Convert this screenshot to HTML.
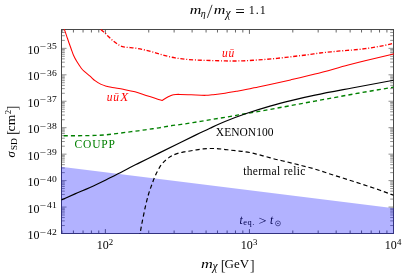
<!DOCTYPE html>
<html><head><meta charset="utf-8"><title>plot</title>
<style>
html,body{margin:0;padding:0;background:#fff;}
body{width:407px;height:276px;overflow:hidden;font-family:"Liberation Serif",serif;}
svg{display:block;will-change:transform;}
text{font-family:"Liberation Serif",serif;fill:#000;}
.tk{font-size:12px;}
.sup{font-size:8.8px;}
.it{font-style:italic;}
.lb{font-size:11.5px;}
</style></head><body>
<svg width="407" height="276" viewBox="0 0 407 276">
<rect width="407" height="276" fill="#fff"/>
<defs><clipPath id="c"><rect x="61.0" y="29.0" width="333.0" height="205.0"/></clipPath></defs>
<path d="M62.00,233.5 v-3.0 M62.00,29.5 v3.0 M73.41,233.5 v-3.0 M73.41,29.5 v3.0 M83.05,233.5 v-3.0 M83.05,29.5 v3.0 M91.41,233.5 v-3.0 M91.41,29.5 v3.0 M98.78,233.5 v-3.0 M98.78,29.5 v3.0 M105.37,233.5 v-4.4 M105.37,29.5 v4.4 M148.74,233.5 v-3.0 M148.74,29.5 v3.0 M174.11,233.5 v-3.0 M174.11,29.5 v3.0 M192.10,233.5 v-3.0 M192.10,29.5 v3.0 M206.07,233.5 v-3.0 M206.07,29.5 v3.0 M217.47,233.5 v-3.0 M217.47,29.5 v3.0 M227.12,233.5 v-3.0 M227.12,29.5 v3.0 M235.47,233.5 v-3.0 M235.47,29.5 v3.0 M242.84,233.5 v-3.0 M242.84,29.5 v3.0 M249.43,233.5 v-4.4 M249.43,29.5 v4.4 M292.80,233.5 v-3.0 M292.80,29.5 v3.0 M318.17,233.5 v-3.0 M318.17,29.5 v3.0 M336.17,233.5 v-3.0 M336.17,29.5 v3.0 M350.13,233.5 v-3.0 M350.13,29.5 v3.0 M361.54,233.5 v-3.0 M361.54,29.5 v3.0 M371.18,233.5 v-3.0 M371.18,29.5 v3.0 M379.54,233.5 v-3.0 M379.54,29.5 v3.0 M386.91,233.5 v-3.0 M386.91,29.5 v3.0 M393.50,233.5 v-4.4 M393.50,29.5 v4.4" stroke="#333" stroke-width="0.75" fill="none"/>
<path d="M61.5,233.50 h5.0 M393.5,233.50 h-5.0 M61.5,225.54 h3.3 M393.5,225.54 h-3.3 M61.5,220.88 h3.3 M393.5,220.88 h-3.3 M61.5,217.58 h3.3 M393.5,217.58 h-3.3 M61.5,215.01 h3.3 M393.5,215.01 h-3.3 M61.5,212.92 h3.3 M393.5,212.92 h-3.3 M61.5,211.15 h3.3 M393.5,211.15 h-3.3 M61.5,209.61 h3.3 M393.5,209.61 h-3.3 M61.5,208.26 h3.3 M393.5,208.26 h-3.3 M61.5,207.05 h5.0 M393.5,207.05 h-5.0 M61.5,199.09 h3.3 M393.5,199.09 h-3.3 M61.5,194.43 h3.3 M393.5,194.43 h-3.3 M61.5,191.13 h3.3 M393.5,191.13 h-3.3 M61.5,188.56 h3.3 M393.5,188.56 h-3.3 M61.5,186.47 h3.3 M393.5,186.47 h-3.3 M61.5,184.70 h3.3 M393.5,184.70 h-3.3 M61.5,183.16 h3.3 M393.5,183.16 h-3.3 M61.5,181.81 h3.3 M393.5,181.81 h-3.3 M61.5,180.60 h5.0 M393.5,180.60 h-5.0 M61.5,172.64 h3.3 M393.5,172.64 h-3.3 M61.5,167.98 h3.3 M393.5,167.98 h-3.3 M61.5,164.68 h3.3 M393.5,164.68 h-3.3 M61.5,162.11 h3.3 M393.5,162.11 h-3.3 M61.5,160.02 h3.3 M393.5,160.02 h-3.3 M61.5,158.25 h3.3 M393.5,158.25 h-3.3 M61.5,156.71 h3.3 M393.5,156.71 h-3.3 M61.5,155.36 h3.3 M393.5,155.36 h-3.3 M61.5,154.15 h5.0 M393.5,154.15 h-5.0 M61.5,146.19 h3.3 M393.5,146.19 h-3.3 M61.5,141.53 h3.3 M393.5,141.53 h-3.3 M61.5,138.23 h3.3 M393.5,138.23 h-3.3 M61.5,135.66 h3.3 M393.5,135.66 h-3.3 M61.5,133.57 h3.3 M393.5,133.57 h-3.3 M61.5,131.80 h3.3 M393.5,131.80 h-3.3 M61.5,130.26 h3.3 M393.5,130.26 h-3.3 M61.5,128.91 h3.3 M393.5,128.91 h-3.3 M61.5,127.70 h5.0 M393.5,127.70 h-5.0 M61.5,119.74 h3.3 M393.5,119.74 h-3.3 M61.5,115.08 h3.3 M393.5,115.08 h-3.3 M61.5,111.78 h3.3 M393.5,111.78 h-3.3 M61.5,109.21 h3.3 M393.5,109.21 h-3.3 M61.5,107.12 h3.3 M393.5,107.12 h-3.3 M61.5,105.35 h3.3 M393.5,105.35 h-3.3 M61.5,103.81 h3.3 M393.5,103.81 h-3.3 M61.5,102.46 h3.3 M393.5,102.46 h-3.3 M61.5,101.25 h5.0 M393.5,101.25 h-5.0 M61.5,93.29 h3.3 M393.5,93.29 h-3.3 M61.5,88.63 h3.3 M393.5,88.63 h-3.3 M61.5,85.33 h3.3 M393.5,85.33 h-3.3 M61.5,82.76 h3.3 M393.5,82.76 h-3.3 M61.5,80.67 h3.3 M393.5,80.67 h-3.3 M61.5,78.90 h3.3 M393.5,78.90 h-3.3 M61.5,77.36 h3.3 M393.5,77.36 h-3.3 M61.5,76.01 h3.3 M393.5,76.01 h-3.3 M61.5,74.80 h5.0 M393.5,74.80 h-5.0 M61.5,66.84 h3.3 M393.5,66.84 h-3.3 M61.5,62.18 h3.3 M393.5,62.18 h-3.3 M61.5,58.88 h3.3 M393.5,58.88 h-3.3 M61.5,56.31 h3.3 M393.5,56.31 h-3.3 M61.5,54.22 h3.3 M393.5,54.22 h-3.3 M61.5,52.45 h3.3 M393.5,52.45 h-3.3 M61.5,50.91 h3.3 M393.5,50.91 h-3.3 M61.5,49.56 h3.3 M393.5,49.56 h-3.3 M61.5,48.35 h5.0 M393.5,48.35 h-5.0 M61.5,40.39 h3.3 M393.5,40.39 h-3.3 M61.5,35.73 h3.3 M393.5,35.73 h-3.3 M61.5,32.43 h3.3 M393.5,32.43 h-3.3 M61.5,29.86 h3.3 M393.5,29.86 h-3.3" stroke="#444" stroke-width="0.6" fill="none"/>
<rect x="61.5" y="29.5" width="332.0" height="204.0" fill="none" stroke="#484848" stroke-width="1"/>
<g>
<text x="239.4" y="223.6" class="it lb">t</text>
<text x="243.2" y="225.2" font-size="8.4" textLength="11.2" lengthAdjust="spacing">eq.</text>
<text x="258.6" y="225.1" font-size="12.5" textLength="8" lengthAdjust="spacingAndGlyphs">&gt;</text>
<text x="270.1" y="223.6" class="it lb">t</text>
<circle cx="277.95" cy="223.4" r="2.45" fill="none" stroke="#000" stroke-width="0.55"/>
<circle cx="277.95" cy="223.4" r="0.6" fill="#000"/>
</g>
<polygon points="61.0,166.8 394.0,208.3 394.0,234.0 61.0,234.0" fill="#0000ff" fill-opacity="0.3" stroke="none"/>
<g clip-path="url(#c)" fill="none" stroke-linejoin="round">
<path d="M99.20,26.50 C99.77,27.47 100.33,28.77 100.90,29.40 C102.37,31.03 103.83,31.89 105.30,33.30 C106.23,34.19 107.17,35.41 108.10,36.30 C109.93,38.04 111.77,39.73 113.60,41.20 C115.43,42.67 117.27,43.98 119.10,45.10 C120.20,45.78 121.30,46.25 122.40,46.60 C123.60,46.98 124.80,47.15 126.00,47.30 C127.40,47.48 128.80,47.47 130.20,47.60 C132.03,47.77 133.87,47.93 135.70,48.20 C137.80,48.51 139.90,48.88 142.00,49.35 C145.70,50.18 149.40,51.09 153.10,52.10 C156.77,53.10 160.43,54.44 164.10,55.40 C167.80,56.37 171.50,57.25 175.20,57.90 C179.13,58.59 183.07,59.07 187.00,59.40 C192.53,59.87 198.07,60.07 203.60,60.30 C209.13,60.53 214.67,60.66 220.20,60.80 C224.13,60.90 228.07,61.00 232.00,61.00 C235.67,61.00 239.33,60.93 243.00,60.80 C246.70,60.67 250.40,60.43 254.10,60.20 C257.80,59.97 261.50,59.70 265.20,59.40 C269.13,59.08 273.07,58.75 277.00,58.35 C280.70,57.98 284.40,57.53 288.10,57.10 C291.77,56.68 295.43,56.25 299.10,55.80 C302.80,55.35 306.50,54.90 310.20,54.40 C313.47,53.96 316.73,53.41 320.00,53.00 C323.70,52.54 327.40,52.17 331.10,51.80 C334.77,51.43 338.43,51.11 342.10,50.80 C345.80,50.49 349.50,50.29 353.20,49.95 C357.13,49.59 361.07,49.20 365.00,48.70 C368.33,48.28 371.67,47.77 375.00,47.20 C378.33,46.63 381.67,46.00 385.00,45.30 C387.83,44.70 390.67,43.97 393.50,43.30" stroke="#ff0000" stroke-width="1.35" stroke-dasharray="4.1,1.8,1.0,1.8" stroke-dashoffset="5.3"/>
<path d="M62.60,24.50 C63.20,26.13 63.80,27.70 64.40,29.40 C65.13,31.47 65.87,33.64 66.60,35.80 C67.35,38.01 68.10,40.35 68.85,42.50 C69.63,44.75 70.42,46.84 71.20,49.00 C71.97,51.11 72.73,53.59 73.50,55.30 C74.62,57.79 75.73,59.75 76.85,61.60 C78.33,64.06 79.82,66.34 81.30,68.25 C82.40,69.67 83.50,70.61 84.60,71.60 C86.42,73.24 88.23,74.56 90.05,76.15 C91.70,77.59 93.35,79.47 95.00,80.70 C97.03,82.22 99.07,83.43 101.10,84.40 C102.93,85.28 104.77,85.75 106.60,86.25 C108.43,86.75 110.27,87.06 112.10,87.40 C115.80,88.08 119.50,88.59 123.20,89.30 C127.13,90.06 131.07,90.75 135.00,91.80 C138.70,92.79 142.40,94.19 146.10,95.40 C149.77,96.59 153.43,97.84 157.10,99.00 C158.77,99.53 160.43,99.97 162.10,100.45 L162.10,100.45 C164.13,99.23 166.17,97.90 168.20,96.80 C169.60,96.05 171.00,95.53 172.40,94.90 L172.40,94.90 C173.57,94.75 174.73,94.53 175.90,94.45 C177.27,94.36 178.63,94.37 180.00,94.40 C183.70,94.49 187.40,94.66 191.10,94.80 C195.87,94.98 200.63,95.37 205.40,95.35 C208.00,95.34 210.60,94.99 213.20,94.70 C217.13,94.27 221.07,93.78 225.00,93.20 C228.70,92.65 232.40,91.95 236.10,91.30 C239.77,90.65 243.43,90.03 247.10,89.30 C250.80,88.56 254.50,87.69 258.20,86.90 C262.13,86.06 266.07,85.25 270.00,84.40 C276.83,82.92 283.67,81.46 290.50,79.90 C298.67,78.03 306.83,76.19 315.00,74.10 C326.07,71.26 337.13,68.04 348.20,65.10 C353.80,63.61 359.40,62.17 365.00,60.80 C374.50,58.47 384.00,56.26 393.50,54.00 C394.67,53.72 395.83,53.47 397.00,53.20" stroke="#ff0000" stroke-width="1.05"/>
<path d="M61.50,135.70 C68.37,135.70 75.23,135.76 82.10,135.70 C86.40,135.66 90.70,135.55 95.00,135.40 C98.33,135.28 101.67,135.18 105.00,134.90 C108.70,134.58 112.40,134.05 116.10,133.60 C119.77,133.15 123.43,132.66 127.10,132.20 C130.80,131.73 134.50,131.29 138.20,130.80 C141.50,130.36 144.80,129.87 148.10,129.40 C151.77,128.87 155.43,128.38 159.10,127.80 C162.77,127.22 166.43,126.46 170.10,125.90 C173.80,125.33 177.50,124.93 181.20,124.40 C185.13,123.83 189.07,123.24 193.00,122.60 C203.67,120.87 214.33,119.11 225.00,117.30 C232.00,116.11 239.00,114.83 246.00,113.60 C254.00,112.20 262.00,110.85 270.00,109.40 C285.00,106.68 300.00,103.85 315.00,101.10 C330.00,98.35 345.00,95.56 360.00,92.90 C371.17,90.92 382.33,89.10 393.50,87.20" stroke="#008000" stroke-width="1.35" stroke-dasharray="4.1,3.1" stroke-dashoffset="5.0"/>
<path d="M61.50,199.85 C66.00,197.87 70.50,195.85 75.00,193.90 C80.00,191.73 85.00,189.76 90.00,187.50 C95.43,185.04 100.87,182.41 106.30,179.75 C110.20,177.84 114.10,175.82 118.00,173.80 C122.00,171.73 126.00,169.55 130.00,167.50 C133.10,165.91 136.20,164.44 139.30,162.90 C145.83,159.64 152.37,156.34 158.90,153.10 C165.93,149.61 172.97,146.16 180.00,142.70 C185.17,140.16 190.33,137.60 195.50,135.10 C200.33,132.76 205.17,130.43 210.00,128.20 C215.00,125.89 220.00,123.51 225.00,121.50 C232.33,118.55 239.67,115.82 247.00,113.30 C254.67,110.67 262.33,108.26 270.00,106.05 C277.33,103.93 284.67,102.08 292.00,100.30 C299.67,98.43 307.33,96.67 315.00,95.10 C327.33,92.57 339.67,90.33 352.00,88.00 C365.83,85.38 379.67,82.83 393.50,80.25" stroke="#000" stroke-width="1.2"/>
<path d="M139.60,238.00 C139.83,236.07 140.07,233.60 140.30,232.20 C141.10,227.40 141.90,223.42 142.70,219.40 C143.67,214.55 144.63,209.76 145.60,205.60 C146.60,201.29 147.60,197.41 148.60,194.00 C149.57,190.71 150.53,188.20 151.50,185.50 C152.50,182.70 153.50,179.89 154.50,177.50 C155.47,175.19 156.43,173.21 157.40,171.40 C158.70,168.97 160.00,166.52 161.30,164.80 C162.97,162.59 164.63,160.92 166.30,159.60 C168.90,157.55 171.50,155.84 174.10,154.70 C177.37,153.27 180.63,152.66 183.90,151.90 C185.93,151.43 187.97,151.34 190.00,151.00 C192.20,150.64 194.40,150.15 196.60,149.80 C198.83,149.45 201.07,149.12 203.30,148.90 C205.50,148.68 207.70,148.55 209.90,148.50 C212.10,148.45 214.30,148.48 216.50,148.60 C218.73,148.72 220.97,148.95 223.20,149.20 C225.77,149.49 228.33,149.89 230.90,150.20 C232.70,150.42 234.50,150.61 236.30,150.80 C238.90,151.08 241.50,151.26 244.10,151.60 C246.30,151.89 248.50,152.25 250.70,152.70 C252.73,153.12 254.77,153.68 256.80,154.20 C258.83,154.72 260.87,155.26 262.90,155.80 C265.10,156.39 267.30,157.00 269.50,157.60 C271.83,158.23 274.17,158.93 276.50,159.50 C280.03,160.36 283.57,161.05 287.10,161.90 C290.77,162.78 294.43,163.77 298.10,164.70 C301.80,165.64 305.50,166.50 309.20,167.50 C312.87,168.50 316.53,169.55 320.20,170.70 C323.47,171.72 326.73,172.95 330.00,174.00 C338.33,176.68 346.67,179.20 355.00,181.90 C363.33,184.60 371.67,187.32 380.00,190.20 C384.50,191.75 389.00,193.53 393.50,195.20" stroke="#000" stroke-width="1.2" stroke-dasharray="4.3,2.9"/>
</g>
<g>
<text x="27.6" y="239.10" class="tk">10</text><text x="40.1" y="234.60" class="sup" textLength="6.4" lengthAdjust="spacingAndGlyphs">−</text><text x="47.1" y="234.60" class="sup" textLength="9.6" lengthAdjust="spacingAndGlyphs">42</text>
<text x="27.6" y="212.65" class="tk">10</text><text x="40.1" y="208.15" class="sup" textLength="6.4" lengthAdjust="spacingAndGlyphs">−</text><text x="47.1" y="208.15" class="sup" textLength="9.6" lengthAdjust="spacingAndGlyphs">41</text>
<text x="27.6" y="186.20" class="tk">10</text><text x="40.1" y="181.70" class="sup" textLength="6.4" lengthAdjust="spacingAndGlyphs">−</text><text x="47.1" y="181.70" class="sup" textLength="9.6" lengthAdjust="spacingAndGlyphs">40</text>
<text x="27.6" y="159.75" class="tk">10</text><text x="40.1" y="155.25" class="sup" textLength="6.4" lengthAdjust="spacingAndGlyphs">−</text><text x="47.1" y="155.25" class="sup" textLength="9.6" lengthAdjust="spacingAndGlyphs">39</text>
<text x="27.6" y="133.30" class="tk">10</text><text x="40.1" y="128.80" class="sup" textLength="6.4" lengthAdjust="spacingAndGlyphs">−</text><text x="47.1" y="128.80" class="sup" textLength="9.6" lengthAdjust="spacingAndGlyphs">38</text>
<text x="27.6" y="106.85" class="tk">10</text><text x="40.1" y="102.35" class="sup" textLength="6.4" lengthAdjust="spacingAndGlyphs">−</text><text x="47.1" y="102.35" class="sup" textLength="9.6" lengthAdjust="spacingAndGlyphs">37</text>
<text x="27.6" y="80.40" class="tk">10</text><text x="40.1" y="75.90" class="sup" textLength="6.4" lengthAdjust="spacingAndGlyphs">−</text><text x="47.1" y="75.90" class="sup" textLength="9.6" lengthAdjust="spacingAndGlyphs">36</text>
<text x="27.6" y="53.95" class="tk">10</text><text x="40.1" y="49.45" class="sup" textLength="6.4" lengthAdjust="spacingAndGlyphs">−</text><text x="47.1" y="49.45" class="sup" textLength="9.6" lengthAdjust="spacingAndGlyphs">35</text>

<text x="96.67" y="249" class="tk">10</text><text x="108.87" y="245.2" class="sup">2</text>
<text x="240.73" y="249" class="tk">10</text><text x="252.93" y="245.2" class="sup">3</text>
<text x="384.80" y="249" class="tk">10</text><text x="397.00" y="245.2" class="sup">4</text>

<!-- title -->
<text x="189.7" y="14.3" class="it" font-size="12.5" textLength="11.6" lengthAdjust="spacingAndGlyphs">m</text>
<text x="200.8" y="16.6" class="it" font-size="10">η</text>
<path d="M207.3,17.9 L212.1,4.8" stroke="#000" stroke-width="0.75" fill="none"/>
<text x="213.8" y="14.3" class="it" font-size="12.5" textLength="11.6" lengthAdjust="spacingAndGlyphs">m</text>
<text x="225.5" y="16.6" class="it" font-size="11.5">χ</text>
<text x="235.2" y="16.85" font-size="17">=</text>
<text x="248.7" y="14.3" font-size="12" textLength="17" lengthAdjust="spacing">1.1</text>
<!-- xlabel -->
<text x="201" y="267.9" class="it" font-size="12.5" textLength="11.8" lengthAdjust="spacingAndGlyphs">m</text>
<text x="212.4" y="270.2" class="it" font-size="11.5">χ</text>
<text x="220.8" y="269.5" font-size="15" style="fill:#333">[</text>
<text x="224.6" y="267.9" font-size="12" textLength="24.6" lengthAdjust="spacingAndGlyphs">GeV</text>
<text x="249.8" y="269.5" font-size="15" style="fill:#333">]</text>
<!-- ylabel -->
<g transform="translate(15.2,157.4) rotate(-90)">
<text x="0" y="0" class="it" font-size="12.5">σ</text>
<text x="7.1" y="2" font-size="8.6" textLength="12.3" lengthAdjust="spacingAndGlyphs">SD</text>
<text x="22.4" y="1.5" font-size="14.7" style="fill:#333">[</text>
<text x="26" y="0" font-size="12.3" textLength="16.7" lengthAdjust="spacingAndGlyphs">cm</text>
<text x="43.1" y="-4.7" font-size="8.8">2</text>
<text x="47.0" y="1.5" font-size="14.7" style="fill:#333">]</text>
</g>
<!-- curve labels -->
<text x="222" y="57" class="it lb" style="fill:#ff0000" textLength="12.2" lengthAdjust="spacing">uū</text>
<text x="106.7" y="100.5" class="it lb" style="fill:#ff0000" textLength="12.4" lengthAdjust="spacing">uū</text>
<text x="120.3" y="100.5" class="it lb" style="fill:#ff0000" textLength="8" lengthAdjust="spacingAndGlyphs">X</text>
<text x="74.4" y="148" class="lb" style="fill:#008000" textLength="40.6" lengthAdjust="spacing">COUPP</text>
<text x="215.8" y="135.8" class="lb" textLength="57.7" lengthAdjust="spacing">XENON100</text>
<text x="243.3" y="174.6" class="lb" textLength="62" lengthAdjust="spacing">thermal relic</text>
</g>
</svg>
</body></html>
